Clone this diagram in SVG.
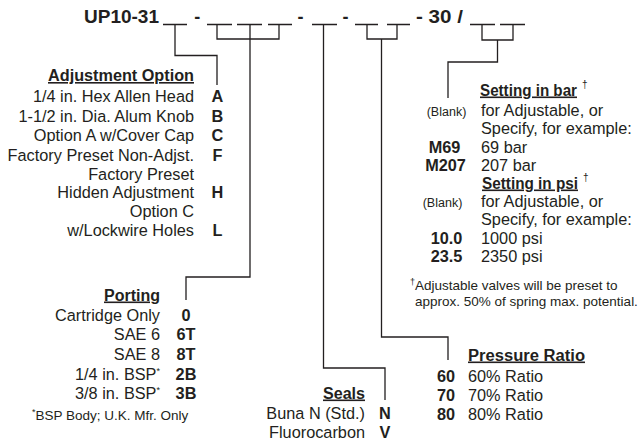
<svg xmlns="http://www.w3.org/2000/svg" width="640" height="445" viewBox="0 0 640 445">
<style>
text{font-family:"Liberation Sans",Arial,Helvetica,sans-serif;fill:#231f20}
.ti{font-size:18px;font-weight:bold}
.bd{font-size:16.3px}
.r{text-anchor:end}
.h{font-size:16px;font-weight:bold}
.u{text-decoration:underline}
.dg{font-size:10px}
.c{font-size:16.3px;font-weight:bold;text-anchor:middle}
.sm{font-size:13.5px}
.bl{font-size:12.5px;text-anchor:middle}
.ln{fill:none;stroke:#231f20;stroke-width:1.3}
</style>
<rect width="640" height="445" fill="#ffffff"/>
<g id="title">
<text class="ti" x="84" y="22.5" textLength="75" lengthAdjust="spacingAndGlyphs">UP10-31</text>
<text class="ti" x="194.2" y="22.5">-</text>
<text class="ti" x="297.5" y="22.5">-</text>
<text class="ti" x="342.5" y="22.5">-</text>
<text class="ti" x="416" y="22.5" textLength="47" lengthAdjust="spacingAndGlyphs">- 30 /</text>
<g class="ln">
<path d="M163,24.5H187M207,24.5H232M237,24.5H262M268,24.5H292M312,24.5H337M355,24.5H378M387,24.5H410M470,24.5H495M500,24.5H525"/>
</g>
</g>
<g id="connectors" class="ln">
<path d="M175,25V55.5H217V85"/>
<path d="M217,25V39H279V25"/>
<path d="M250,25V277H186V300"/>
<path d="M323.5,25V368H385V400"/>
<path d="M367,25V39H397V25"/>
<path d="M381.5,39V337H448V360"/>
<path d="M482,25V40H513V25"/>
<path d="M497.5,40V62H448V98"/>
</g>
<g id="adjustment-option">
<text class="h u" x="48" y="81" textLength="146" lengthAdjust="spacingAndGlyphs">Adjustment Option</text>
<text class="bd r" x="194" y="102">1/4 in. Hex Allen Head</text>
<text class="bd r" x="194" y="121.5">1-1/2 in. Dia. Alum Knob</text>
<text class="bd r" x="194" y="141">Option A w/Cover Cap</text>
<text class="bd r" x="194" y="160.5">Factory Preset Non-Adjst.</text>
<text class="bd r" x="194" y="179.5">Factory Preset</text>
<text class="bd r" x="194" y="198">Hidden Adjustment</text>
<text class="bd r" x="194" y="217">Option C</text>
<text class="bd r" x="194" y="236">w/Lockwire Holes</text>
<text class="c" x="217.5" y="102">A</text>
<text class="c" x="217.5" y="121.5">B</text>
<text class="c" x="217.5" y="141">C</text>
<text class="c" x="217.5" y="160.5">F</text>
<text class="c" x="217.5" y="198">H</text>
<text class="c" x="217.5" y="236">L</text>
</g>
<g id="porting">
<text class="h u" x="104" y="300.5" textLength="56" lengthAdjust="spacingAndGlyphs">Porting</text>
<text class="bd r" x="160" y="320.5">Cartridge Only</text>
<text class="bd r" x="160" y="340">SAE 6</text>
<text class="bd r" x="160" y="360">SAE 8</text>
<text class="bd r" x="160" y="379.5">1/4 in. BSP<tspan font-size="9" dy="-6">*</tspan></text>
<text class="bd r" x="160" y="399">3/8 in. BSP<tspan font-size="9" dy="-6">*</tspan></text>
<text class="c" x="186" y="320.5">0</text>
<text class="c" x="186" y="340">6T</text>
<text class="c" x="186" y="360">8T</text>
<text class="c" x="186" y="379.5">2B</text>
<text class="c" x="186" y="399">3B</text>
<text class="sm" x="32" y="420"><tspan font-size="9" dy="-5">*</tspan><tspan dy="5">BSP Body; U.K. Mfr. Only</tspan></text>
</g>
<g id="seals">
<text class="h u" x="323" y="398.5" textLength="42" lengthAdjust="spacingAndGlyphs">Seals</text>
<text class="bd r" x="365" y="419">Buna N (Std.)</text>
<text class="bd r" x="365" y="438">Fluorocarbon</text>
<text class="c" x="385" y="419">N</text>
<text class="c" x="385" y="438">V</text>
</g>
<g id="pressure-ratio">
<text class="h u" x="468" y="360.5" textLength="117" lengthAdjust="spacingAndGlyphs">Pressure Ratio</text>
<text class="c" x="446" y="381.5">60</text>
<text class="c" x="446" y="401">70</text>
<text class="c" x="446" y="420">80</text>
<text class="bd" x="468" y="381.5">60% Ratio</text>
<text class="bd" x="468" y="401">70% Ratio</text>
<text class="bd" x="468" y="420">80% Ratio</text>
</g>
<g id="setting-bar">
<text class="h u" x="480" y="95.5" textLength="97" lengthAdjust="spacingAndGlyphs">Setting in bar</text>
<text class="dg" x="582" y="88">†</text>
<text class="bl" x="446.5" y="116">(Blank)</text>
<text class="bd" x="481" y="116">for Adjustable, or</text>
<text class="bd" x="481" y="134">Specify, for example:</text>
<text class="c" x="444.5" y="152.5">M69</text>
<text class="bd" x="481" y="152.5">69 bar</text>
<text class="c" x="445.5" y="170.5">M207</text>
<text class="bd" x="481" y="170.5">207 bar</text>
</g>
<g id="setting-psi">
<text class="h u" x="482" y="188.5" textLength="96" lengthAdjust="spacingAndGlyphs">Setting in psi</text>
<text class="dg" x="583" y="181">†</text>
<text class="bl" x="442.5" y="207">(Blank)</text>
<text class="bd" x="481" y="207">for Adjustable, or</text>
<text class="bd" x="481" y="225">Specify, for example:</text>
<text class="c" x="446.5" y="243.5">10.0</text>
<text class="bd" x="481" y="243.5">1000 psi</text>
<text class="c" x="446.5" y="262">23.5</text>
<text class="bd" x="481" y="262">2350 psi</text>
<text class="sm" x="410" y="290"><tspan font-size="9" dy="-5">†</tspan><tspan dy="5">Adjustable valves will be preset to</tspan></text>
<text class="sm" x="415" y="305.5">approx. 50% of spring max. potential.</text>
</g>
</svg>
